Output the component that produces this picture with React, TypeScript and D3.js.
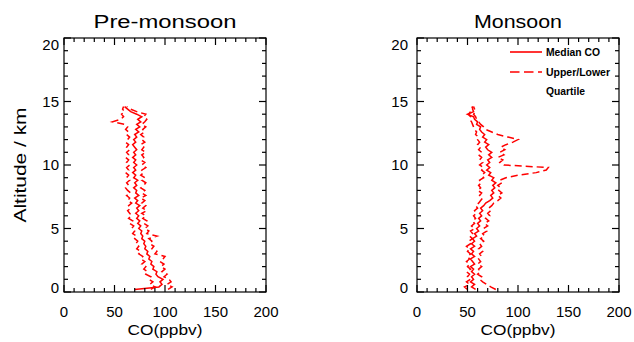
import React from "react";
import * as d3 from "d3";

const ALT = [
  0.2, 0.4, 0.6, 0.8, 1.0, 1.2, 1.4, 1.6, 1.8, 2.0,
  2.2, 2.4, 2.6, 2.8, 3.0, 3.2, 3.4, 3.6, 3.8, 4.0,
  4.2, 4.4, 4.6, 4.8, 5.0, 5.2, 5.4, 5.6, 5.8, 6.0,
  6.2, 6.4, 6.6, 6.8, 7.0, 7.2, 7.4, 7.6, 7.8, 8.0,
  8.2, 8.4, 8.6, 8.8, 9.0, 9.2, 9.4, 9.6, 9.8, 10.0,
  10.2, 10.4, 10.6, 10.8, 11.0, 11.2, 11.4, 11.6, 11.8, 12.0,
  12.2, 12.4, 12.6, 12.8, 13.0, 13.2, 13.4, 13.6, 13.8, 14.0,
  14.2, 14.4, 14.6,
];

const PRE_MEDIAN = [
  70, 94, 97, 95, 98, 93, 91, 92, 88, 89,
  86, 87, 84, 85, 82, 83, 80, 81, 79, 80,
  77, 78, 76, 77, 74, 76, 73, 75, 72, 74,
  71, 74, 72, 75, 71, 73, 70, 74, 71, 72,
  69, 72, 70, 73, 69, 71, 68, 71, 69, 72,
  69, 71, 68, 71, 69, 72, 70, 68, 71, 69,
  72, 70, 74, 71, 75, 72, 76, 73, 77, 72,
  66, 63, 60,
];
const PRE_UPPER = [
  103, 107, 102, 106, 104, 99, 102, 97, 100, 96,
  99, 95, 98, 100, 90, 92, 87, 89, 85, 87,
  84, 92, 82, 84, 80, 83, 79, 82, 78, 81,
  77, 82, 78, 81, 77, 80, 76, 81, 77, 80,
  76, 79, 81, 77, 80, 76, 79, 77, 81, 77,
  80, 76, 79, 77, 81, 77, 79, 76, 80, 77,
  79, 76, 80, 78, 81, 77, 80, 82, 79, 81,
  72, 66, 62,
];
const PRE_LOWER = [
  86, 90, 85, 88, 84, 86, 81, 83, 79, 81,
  77, 80, 76, 78, 74, 76, 72, 74, 71, 73,
  70, 72, 68, 70, 67, 69, 65, 68, 64, 67,
  65, 63, 66, 64, 67, 63, 65, 62, 66, 63,
  61, 64, 62, 65, 62, 64, 61, 64, 62, 65,
  62, 64, 61, 64, 62, 65, 62, 64, 61, 63,
  65, 62, 64, 61, 63, 60, 48, 56, 59, 57,
  60, 58, 59,
];

const MON_MEDIAN = [
  58, 54, 57, 53, 56, 54, 57, 54, 56, 53,
  57, 55, 53, 57, 54, 56, 53, 57, 54, 57,
  55, 59, 57, 61, 59, 62, 60, 63, 61, 64,
  62, 65, 63, 66, 68, 72, 75, 73, 76, 74,
  77, 75, 78, 74, 76, 71, 73, 69, 72, 69,
  72, 70, 74, 71, 74, 70, 68, 71, 67, 69,
  65, 67, 64, 62, 63, 59, 60, 57, 56, 50,
  56, 55, 55,
];
const MON_UPPER = [
  78, 73, 69, 65, 62, 64, 60, 63, 61, 64,
  60, 63, 61, 64, 62, 65, 61, 64, 62, 66,
  63, 67, 65, 69, 66, 70, 67, 71, 68, 72,
  70, 73, 71, 74, 76, 80, 83, 80, 84, 81,
  83, 80, 84, 82, 88, 100, 118, 128, 130, 86,
  82, 85, 80, 86, 82, 87, 83, 88, 95, 100,
  90, 80, 74, 68, 66, 63, 61, 59, 58, 56,
  58, 57, 56,
];
const MON_LOWER = [
  50, 47, 52, 49, 53, 50, 52, 49, 53, 50,
  52, 49, 52, 50, 53, 50, 52, 49, 53, 51,
  55, 52, 55, 53, 57, 54, 57, 55, 58, 56,
  59, 57, 60, 58, 61, 63, 65, 62, 64, 60,
  63, 61, 64, 62, 66, 64, 67, 64, 66, 62,
  65, 62, 64, 61, 64, 61, 63, 60, 62, 60,
  61, 58, 59, 57, 56, 55, 54, 52, 53, 51,
  53, 54, 55,
];

const X_TICKS = [0, 50, 100, 150, 200];
const Y_TICKS = [0, 5, 10, 15, 20];
const X_MINOR = [10, 20, 30, 40, 60, 70, 80, 90, 110, 120, 130, 140, 160, 170, 180, 190];
const Y_MINOR = [1, 2, 3, 4, 6, 7, 8, 9, 11, 12, 13, 14, 16, 17, 18, 19];

const FONT = "'Liberation Sans', Arial, Helvetica, sans-serif";
const RED = "#ff0000";
const DASH = "7,4";

type PanelProps = {
  x0: number;
  title: string;
  titleWidth: number;
  median: number[];
  upper: number[];
  lower: number[];
  labelGap: number;
};

function Panel({ x0, title, titleWidth, median, upper, lower, labelGap }: PanelProps) {
  const W = 202;
  const top = 38;
  const bottom = 292;
  const x = d3.scaleLinear().domain([0, 200]).range([x0, x0 + W]);
  const y = d3.scaleLinear().domain([0, 20]).range([bottom, top]);
  const line = d3
    .line<number>()
    .x((d) => x(d))
    .y((_, i) => y(ALT[i]));
  const MAJ = 7;
  const MIN = 4;
  return (
    <g>
      <text x={x0 + W / 2} y={28} fontFamily={FONT} fontSize={18} textAnchor="middle" textLength={titleWidth} lengthAdjust="spacingAndGlyphs">
        {title}
      </text>
      <path d={line(median) || ""} fill="none" stroke={RED} strokeWidth={1.5} />
      <path d={line(upper) || ""} fill="none" stroke={RED} strokeWidth={1.5} strokeDasharray={DASH} />
      <path d={line(lower) || ""} fill="none" stroke={RED} strokeWidth={1.5} strokeDasharray={DASH} />
      <rect x={x0} y={top} width={W} height={bottom - top} fill="none" stroke="#000" strokeWidth={1.2} />
      {X_TICKS.map((v) => (
        <g key={"xt" + v}>
          <line x1={x(v)} x2={x(v)} y1={bottom} y2={bottom - MAJ} stroke="#000" strokeWidth={1.2} />
          <line x1={x(v)} x2={x(v)} y1={top} y2={top + MAJ} stroke="#000" strokeWidth={1.2} />
          <text x={x(v)} y={317} fontFamily={FONT} fontSize={15} textAnchor="middle">
            {v}
          </text>
        </g>
      ))}
      {X_MINOR.map((v) => (
        <g key={"xm" + v}>
          <line x1={x(v)} x2={x(v)} y1={bottom} y2={bottom - MIN} stroke="#000" strokeWidth={1.2} />
          <line x1={x(v)} x2={x(v)} y1={top} y2={top + MIN} stroke="#000" strokeWidth={1.2} />
        </g>
      ))}
      {Y_TICKS.map((v) => (
        <g key={"yt" + v}>
          <line x1={x0} x2={x0 + MAJ} y1={y(v)} y2={y(v)} stroke="#000" strokeWidth={1.2} />
          <line x1={x0 + W} x2={x0 + W - MAJ} y1={y(v)} y2={y(v)} stroke="#000" strokeWidth={1.2} />
          <text x={x0 - labelGap} y={Math.min(293.3, Math.max(50.3, y(v) + 5.3))} fontFamily={FONT} fontSize={15} textAnchor="end">
            {v}
          </text>
        </g>
      ))}
      {Y_MINOR.map((v) => (
        <g key={"ym" + v}>
          <line x1={x0} x2={x0 + MIN} y1={y(v)} y2={y(v)} stroke="#000" strokeWidth={1.2} />
          <line x1={x0 + W} x2={x0 + W - MIN} y1={y(v)} y2={y(v)} stroke="#000" strokeWidth={1.2} />
        </g>
      ))}
      <text x={x0 + W / 2} y={335} fontFamily={FONT} fontSize={15} textAnchor="middle" textLength={75} lengthAdjust="spacingAndGlyphs">
        CO(ppbv)
      </text>
    </g>
  );
}

export default function App() {
  return (
    <svg width={634} height={342} style={{ position: "absolute", left: 0, top: 0, background: "#fff" }}>
      <rect x={0} y={0} width={634} height={342} fill="#fff" />
      <Panel x0={64} title="Pre-monsoon" titleWidth={143} median={PRE_MEDIAN} upper={PRE_UPPER} lower={PRE_LOWER} labelGap={5} />
      <Panel x0={417} title="Monsoon" titleWidth={88} median={MON_MEDIAN} upper={MON_UPPER} lower={MON_LOWER} labelGap={9} />
      <text
        transform="translate(26,165) rotate(-90)"
        fontFamily={FONT}
        fontSize={17}
        textAnchor="middle"
        textLength={115}
        lengthAdjust="spacingAndGlyphs"
      >
        Altitude / km
      </text>
      <g fontFamily={FONT} fontSize={10.5} fontWeight="bold">
        <line x1={510} x2={542} y1={52} y2={52} stroke={RED} strokeWidth={1.6} />
        <text x={546} y={56} textLength={54} lengthAdjust="spacingAndGlyphs">Median CO</text>
        <line x1={510} x2={542} y1={72} y2={72} stroke={RED} strokeWidth={1.6} strokeDasharray="9.5,4.5" />
        <text x={546} y={76} textLength={64} lengthAdjust="spacingAndGlyphs">Upper/Lower</text>
        <text x={546} y={95} textLength={39} lengthAdjust="spacingAndGlyphs">Quartile</text>
      </g>
    </svg>
  );
}
